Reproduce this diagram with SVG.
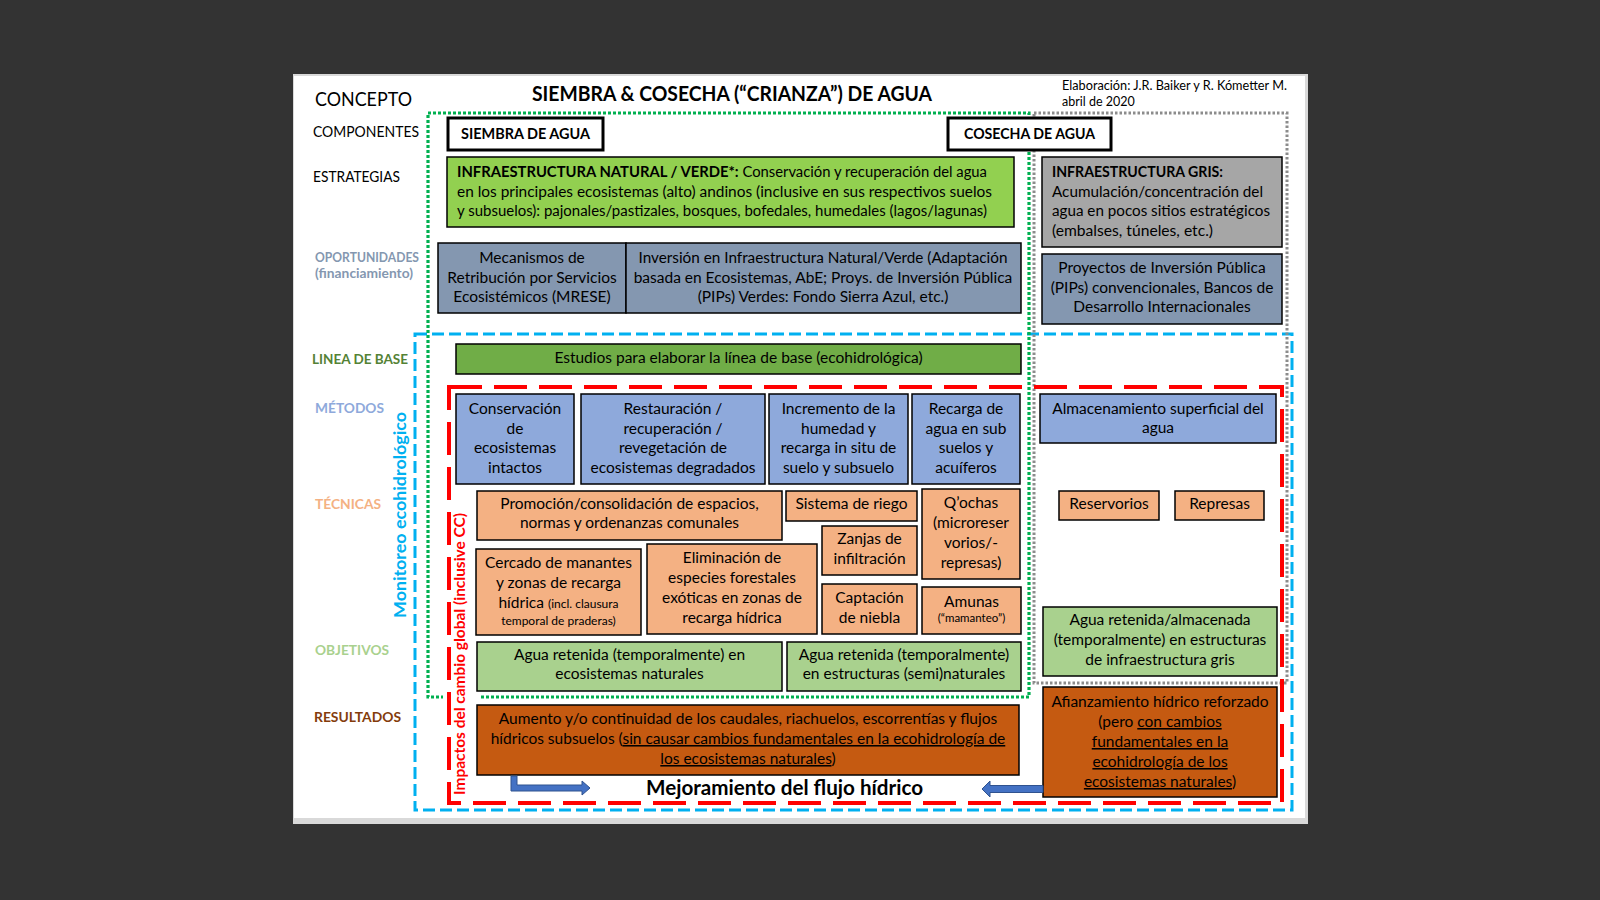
<svg xmlns="http://www.w3.org/2000/svg" width="1600" height="900" viewBox="0 0 1600 900">
<style>
.t{font-family:Lato,"Liberation Sans",sans-serif;font-size:15.5px;fill:#000}
.c{text-anchor:middle}
.b{font-weight:700}
.sm{font-size:12px}
.u{text-decoration:underline}
.box{stroke:#000;stroke-width:1.5}
.comp{fill:#fff;stroke:#000;stroke-width:3}
.nat{fill:#92D050}.gris{fill:#A6A6A6}.op{fill:#8497B0}.lb{fill:#70AD47}
.met{fill:#8EA9DB}.tec{fill:#F4B183}.obj{fill:#A9D18E}.res{fill:#C55A11}
.reg{fill:none}
.arrow{fill:#4472C4;stroke:#2F528F;stroke-width:1}
</style>
<rect x="0" y="0" width="1600" height="900" fill="#333333"/>
<g id="panel">
<rect x="293" y="74" width="1015" height="750" fill="#D9D9D9"/>
<rect x="294" y="76" width="1011" height="742" fill="#FFFFFF"/>
</g>
<g id="regions">
<rect class="reg" x="415" y="334" width="877" height="476" stroke="#00B0F0" stroke-width="3" stroke-dasharray="12 5"/>
<rect class="reg" x="428" y="113" width="601" height="584" stroke="#00B050" stroke-width="3.2" stroke-dasharray="3 2"/>
<rect class="reg" x="1034" y="113" width="253" height="570" stroke="#8C8C8C" stroke-width="3" stroke-dasharray="2.5 2"/>
<rect x="443" y="505" width="36" height="296" fill="#FFFFFF"/>
<rect class="reg" x="449" y="387" width="833" height="416" stroke="#FF0000" stroke-width="4" stroke-dasharray="33 12"/>
<text class="t b" transform="translate(406,515) rotate(-90)" text-anchor="middle" style="fill:#00B0F0;font-size:17px" textLength="206" lengthAdjust="spacingAndGlyphs">Monitoreo ecohidrológico</text>
<text class="t b" transform="translate(465,654) rotate(-90)" text-anchor="middle" style="fill:#FF0000;font-size:14.5px" textLength="282" lengthAdjust="spacingAndGlyphs">Impactos del cambio global (inclusive CC)</text>
</g>
<g id="header">
<text class="t" x="315" y="106" style="font-size:19px" textLength="97" lengthAdjust="spacingAndGlyphs">CONCEPTO</text>
<text class="t b" x="532" y="101" style="font-size:20px" textLength="400" lengthAdjust="spacingAndGlyphs">SIEMBRA &amp; COSECHA (“CRIANZA”) DE AGUA</text>
<text class="t" x="1062" y="90" style="font-size:12.5px" textLength="225" lengthAdjust="spacingAndGlyphs">Elaboración: J.R. Baiker y R. Kómetter M.</text>
<text class="t" x="1062" y="106" style="font-size:12.5px">abril de 2020</text>
</g>
<g id="row-labels">
<text class="t" x="313" y="137" style="font-size:14.5px" textLength="106" lengthAdjust="spacingAndGlyphs">COMPONENTES</text>
<text class="t" x="313" y="182" style="font-size:14.5px" textLength="87" lengthAdjust="spacingAndGlyphs">ESTRATEGIAS</text>
<text class="t b" x="315" y="262" style="font-size:12.5px;fill:#8497B0" textLength="104" lengthAdjust="spacingAndGlyphs">OPORTUNIDADES</text>
<text class="t b" x="315" y="278" style="font-size:12.5px;fill:#8497B0" textLength="98" lengthAdjust="spacingAndGlyphs">(financiamiento)</text>
<text class="t b" x="312" y="364" style="font-size:13.5px;fill:#548235" textLength="96" lengthAdjust="spacingAndGlyphs">LINEA DE BASE</text>
<text class="t b" x="315" y="413" style="font-size:13.5px;fill:#8EA9DB" textLength="69" lengthAdjust="spacingAndGlyphs">MÉTODOS</text>
<text class="t b" x="315" y="509" style="font-size:13.5px;fill:#F4B183" textLength="66" lengthAdjust="spacingAndGlyphs">TÉCNICAS</text>
<text class="t b" x="315" y="655" style="font-size:13.5px;fill:#A9D18E" textLength="74" lengthAdjust="spacingAndGlyphs">OBJETIVOS</text>
<text class="t b" x="314" y="722" style="font-size:13.5px;fill:#843C0C" textLength="87" lengthAdjust="spacingAndGlyphs">RESULTADOS</text>
</g>
<g id="siembra">
<rect class="comp" x="448" y="118" width="155" height="32"/>
<text class="t b c" x="525.5" y="139" style="font-size:15px" textLength="129" lengthAdjust="spacingAndGlyphs">SIEMBRA DE AGUA</text>
</g>
<g id="cosecha">
<rect class="comp" x="948" y="118" width="163" height="32"/>
<text class="t b c" x="1029.5" y="139" style="font-size:15px" textLength="131" lengthAdjust="spacingAndGlyphs">COSECHA DE AGUA</text>
</g>
<g id="infra-natural">
<rect class="box nat" x="447" y="157" width="567" height="70"/>
<text class="t" x="457" y="177" textLength="530" lengthAdjust="spacingAndGlyphs"><tspan class="b">INFRAESTRUCTURA NATURAL / VERDE*:</tspan> Conservación y recuperación del agua</text>
<text class="t" x="457" y="197" textLength="535" lengthAdjust="spacingAndGlyphs">en los principales ecosistemas (alto) andinos (inclusive en sus respectivos suelos</text>
<text class="t" x="457" y="216" style="font-size:14.5px" textLength="530" lengthAdjust="spacingAndGlyphs">y subsuelos): pajonales/pastizales, bosques, bofedales, humedales (lagos/lagunas)</text>
</g>
<g id="infra-gris">
<rect class="box gris" x="1042" y="157" width="240" height="90"/>
<text class="t b" x="1052" y="177" textLength="171" lengthAdjust="spacingAndGlyphs">INFRAESTRUCTURA GRIS:</text>
<text class="t" x="1052" y="197" textLength="211" lengthAdjust="spacingAndGlyphs">Acumulación/concentración del</text>
<text class="t" x="1052" y="216" textLength="218" lengthAdjust="spacingAndGlyphs">agua en pocos sitios estratégicos</text>
<text class="t" x="1052" y="236" textLength="161" lengthAdjust="spacingAndGlyphs">(embalses, túneles, etc.)</text>
</g>
<g id="mrese">
<rect class="box op" x="438" y="243" width="188" height="70"/>
<text class="t c" x="532" y="263">Mecanismos de</text>
<text class="t c" x="532" y="283">Retribución por Servicios</text>
<text class="t c" x="532" y="302">Ecosistémicos (MRESE)</text>
</g>
<g id="inversion-verde">
<rect class="box op" x="626" y="243" width="395" height="70"/>
<text class="t c" x="823" y="263" textLength="369" lengthAdjust="spacingAndGlyphs">Inversión en Infraestructura Natural/Verde (Adaptación</text>
<text class="t c" x="823" y="283">basada en Ecosistemas, AbE; Proys. de Inversión Pública</text>
<text class="t c" x="823" y="302">(PIPs) Verdes: Fondo Sierra Azul, etc.)</text>
</g>
<g id="pips-convencionales">
<rect class="box op" x="1042" y="254" width="240" height="70"/>
<text class="t c" x="1162" y="273">Proyectos de Inversión Pública</text>
<text class="t c" x="1162" y="293">(PIPs) convencionales, Bancos de</text>
<text class="t c" x="1162" y="312">Desarrollo Internacionales</text>
</g>
<g id="linea-base">
<rect class="box lb" x="456" y="344" width="565" height="30"/>
<text class="t c" x="738.5" y="363">Estudios para elaborar la línea de base (ecohidrológica)</text>
</g>
<g id="m-conservacion">
<rect class="box met" x="456" y="394" width="118" height="90"/>
<text class="t c" x="515" y="414">Conservación</text>
<text class="t c" x="515" y="434">de</text>
<text class="t c" x="515" y="453">ecosistemas</text>
<text class="t c" x="515" y="473">intactos</text>
</g>
<g id="m-restauracion">
<rect class="box met" x="581" y="394" width="184" height="90"/>
<text class="t c" x="673" y="414">Restauración /</text>
<text class="t c" x="673" y="434">recuperación /</text>
<text class="t c" x="673" y="453">revegetación de</text>
<text class="t c" x="673" y="473">ecosistemas degradados</text>
</g>
<g id="m-humedad">
<rect class="box met" x="769" y="394" width="139" height="90"/>
<text class="t c" x="838.5" y="414">Incremento de la</text>
<text class="t c" x="838.5" y="434">humedad y</text>
<text class="t c" x="838.5" y="453">recarga in situ de</text>
<text class="t c" x="838.5" y="473">suelo y subsuelo</text>
</g>
<g id="m-recarga">
<rect class="box met" x="912" y="394" width="108" height="90"/>
<text class="t c" x="966" y="414">Recarga de</text>
<text class="t c" x="966" y="434">agua en sub</text>
<text class="t c" x="966" y="453">suelos y</text>
<text class="t c" x="966" y="473">acuíferos</text>
</g>
<g id="m-almacenamiento">
<rect class="box met" x="1040" y="394" width="236" height="49"/>
<text class="t c" x="1158" y="414">Almacenamiento superficial del</text>
<text class="t c" x="1158" y="433">agua</text>
</g>
<g id="t-promocion">
<rect class="box tec" x="477" y="491" width="305" height="49"/>
<text class="t c" x="629.5" y="509">Promoción/consolidación de espacios,</text>
<text class="t c" x="629.5" y="528">normas y ordenanzas comunales</text>
</g>
<g id="t-riego">
<rect class="box tec" x="786" y="491" width="131" height="30"/>
<text class="t c" x="851.5" y="509">Sistema de riego</text>
</g>
<g id="t-qochas">
<rect class="box tec" x="922" y="489" width="98" height="90"/>
<text class="t c" x="971" y="508">Q’ochas</text>
<text class="t c" x="971" y="528">(microreser</text>
<text class="t c" x="971" y="548">vorios/-</text>
<text class="t c" x="971" y="568">represas)</text>
</g>
<g id="t-zanjas">
<rect class="box tec" x="822" y="526" width="95" height="49"/>
<text class="t c" x="869.5" y="544">Zanjas de</text>
<text class="t c" x="869.5" y="564">infiltración</text>
</g>
<g id="t-cercado">
<rect class="box tec" x="476" y="549" width="165" height="86"/>
<text class="t c" x="558.5" y="568">Cercado de manantes</text>
<text class="t c" x="558.5" y="588">y zonas de recarga</text>
<text class="t c" x="558.5" y="608">hídrica <tspan class="sm">(incl. clausura</tspan></text>
<text class="t c sm" x="558.5" y="625">temporal de praderas)</text>
</g>
<g id="t-eliminacion">
<rect class="box tec" x="647" y="544" width="170" height="90"/>
<text class="t c" x="732" y="563">Eliminación de</text>
<text class="t c" x="732" y="583">especies forestales</text>
<text class="t c" x="732" y="603">exóticas en zonas de</text>
<text class="t c" x="732" y="623">recarga hídrica</text>
</g>
<g id="t-niebla">
<rect class="box tec" x="822" y="584" width="95" height="50"/>
<text class="t c" x="869.5" y="603">Captación</text>
<text class="t c" x="869.5" y="623">de niebla</text>
</g>
<g id="t-amunas">
<rect class="box tec" x="922" y="587" width="99" height="47"/>
<text class="t c" x="971.5" y="607">Amunas</text>
<text class="t c" x="971.5" y="622" style="font-size:11.5px">(“mamanteo”)</text>
</g>
<g id="t-reservorios">
<rect class="box tec" x="1059" y="491" width="100" height="29"/>
<text class="t c" x="1109" y="509">Reservorios</text>
</g>
<g id="t-represas">
<rect class="box tec" x="1175" y="491" width="89" height="29"/>
<text class="t c" x="1219.5" y="509">Represas</text>
</g>
<g id="o-naturales">
<rect class="box obj" x="477" y="642" width="305" height="49"/>
<text class="t c" x="629.5" y="660">Agua retenida (temporalmente) en</text>
<text class="t c" x="629.5" y="679">ecosistemas naturales</text>
</g>
<g id="o-seminaturales">
<rect class="box obj" x="787" y="642" width="234" height="49"/>
<text class="t c" x="904" y="660">Agua retenida (temporalmente)</text>
<text class="t c" x="904" y="679">en estructuras (semi)naturales</text>
</g>
<g id="o-gris">
<rect class="box obj" x="1043" y="607" width="234" height="69"/>
<text class="t c" x="1160" y="625">Agua retenida/almacenada</text>
<text class="t c" x="1160" y="645">(temporalmente) en estructuras</text>
<text class="t c" x="1160" y="665">de infraestructura gris</text>
</g>
<g id="r-caudales">
<rect class="box res" x="477" y="705" width="542" height="70"/>
<text class="t c" x="748" y="724">Aumento y/o continuidad de los caudales, riachuelos, escorrentías y flujos</text>
<text class="t c" x="748" y="744">hídricos subsuelos (<tspan class="u">sin causar cambios fundamentales en la ecohidrología de</tspan></text>
<text class="t c" x="748" y="764"><tspan class="u">los ecosistemas naturales</tspan>)</text>
</g>
<g id="r-afianzamiento">
<rect class="box res" x="1043" y="687" width="234" height="110"/>
<text class="t c" x="1160" y="707">Afianzamiento hídrico reforzado</text>
<text class="t c" x="1160" y="727">(pero <tspan class="u">con cambios</tspan></text>
<text class="t c" x="1160" y="747"><tspan class="u">fundamentales en la</tspan></text>
<text class="t c" x="1160" y="767"><tspan class="u">ecohidrología de los</tspan></text>
<text class="t c" x="1160" y="787"><tspan class="u">ecosistemas naturales</tspan>)</text>
</g>
<g id="mejoramiento">
<text class="t b" x="646" y="795" style="font-size:20px" textLength="277" lengthAdjust="spacingAndGlyphs">Mejoramiento del flujo hídrico</text>
</g>
<g id="connectors">
<path class="arrow" d="M511,776 H517 V785 H582 V781 L590,788 L582,795 V791 H511 Z"/>
<path class="arrow" d="M1043,785.5 H990 V781 L982,789 L990,797 V792.5 H1043 Z"/>
</g>
</svg>
